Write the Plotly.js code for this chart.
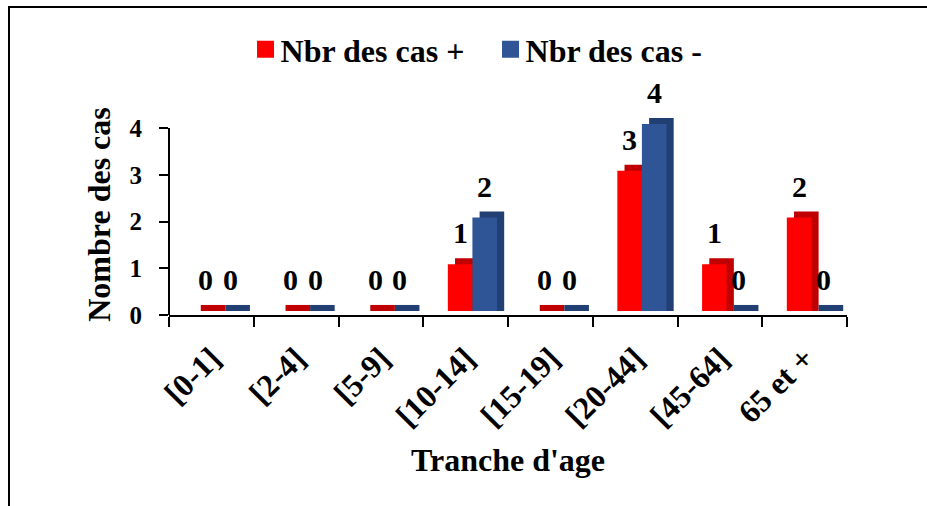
<!DOCTYPE html>
<html>
<head>
<meta charset="utf-8">
<script src="https://cdn.plot.ly/plotly-3.0.1.min.js"></script>
<style>
  html, body { margin: 0; padding: 0; background: #fff; }
  #wrap { position: relative; width: 927px; height: 506px; }
  #chart { position: absolute; left: 0; top: 0; width: 927px; height: 506px; }
  #frame { position: absolute; left: 8px; top: 6px; right: 0; bottom: 0;
           border-top: 2px solid #000; border-left: 2px solid #000; pointer-events: none; }
</style>
</head>
<body>
<div id="wrap"><div id="chart"></div><div id="frame"></div></div>
<script>
// ---- data ----
const categories = ['[0-1]', '[2-4]', '[5-9]', '[10-14]', '[15-19]', '[20-44]', '[45-64]', '65 et +'];
const casPositifs = [0, 0, 0, 1, 0, 3, 1, 2];
const casNegatifs = [0, 0, 0, 2, 0, 4, 0, 0];
const seriesNames = ['Nbr des cas +', 'Nbr des cas -'];
const yTicks = [0, 1, 2, 3, 4];

// ---- style ----
const FONT = 'Liberation Serif, Times New Roman, serif';
const W = 0.29;          // bar width (category units)
const OFF_POS = -0.21;   // offset of red bars
const OFF_NEG = 0.08;    // offset of blue bars
const DX = 0.085;        // 3D depth, horizontal (category units)
const DY = 0.13;         // 3D depth, vertical (value units)
const LIFT = 0.085;      // floor lift of the 3D bars
const Y_MAX = Math.max(...yTicks);
const HEADROOM = 0.3;    // room above the axis top for the 3D tops
const PX_PER_UNIT = 46.75;

const idx = categories.map((c, i) => i);

function depthTrace(vals, off, color) {
  return {
    type: 'bar', x: categories, y: vals.map(v => v + DY), base: LIFT,
    offset: off + DX, width: W, marker: { color: color, line: { width: 0 } },
    showlegend: false, hoverinfo: 'skip'
  };
}
function frontTrace(vals, off, color, name) {
  return {
    type: 'bar', x: categories, y: vals, base: LIFT, name: name,
    offset: off, width: W, marker: { color: color, line: { width: 0 } }
  };
}

const traces = [
  depthTrace(casPositifs, OFF_POS, '#C00000'),
  depthTrace(casNegatifs, OFF_NEG, '#223F73'),
  frontTrace(casPositifs, OFF_POS, '#FF0000', seriesNames[0]),
  frontTrace(casNegatifs, OFF_NEG, '#2F5597', seriesNames[1])
];

const annotations = [];
[[casPositifs, OFF_POS], [casNegatifs, OFF_NEG]].forEach(([vals, off]) => {
  vals.forEach((v, i) => {
    annotations.push({
      xref: 'x', yref: 'y', x: idx[i] + off + W / 2, y: v + LIFT,
      text: String(v), showarrow: false, yanchor: 'bottom', yshift: 13,
      font: { family: FONT, size: 30, weight: 'bold', color: '#000' }
    });
  });
});

const topMargin = Math.round(128 - HEADROOM * PX_PER_UNIT);
const plotH = 506 - 191 - topMargin;

const layout = {
  width: 927, height: 506,
  margin: { l: 169, r: 80, t: topMargin, b: 191 },
  paper_bgcolor: '#fff', plot_bgcolor: '#fff',
  barmode: 'overlay',
  showlegend: true,
  legend: {
    orientation: 'h', x: 0.1055, xanchor: 'left', y: 1 + (topMargin - 49.5) / plotH, yanchor: 'middle',
    entrywidth: 200, entrywidthmode: 'pixels',
    font: { family: FONT, size: 32, weight: 'bold', color: '#000' },
    traceorder: 'normal', bgcolor: 'rgba(0,0,0,0)'
  },
  xaxis: {
    type: 'category', categoryorder: 'array', categoryarray: categories,
    tickangle: -45, tickson: 'boundaries',
    ticks: 'outside', ticklen: 10, tickwidth: 2, tickcolor: '#000',
    ticklabelstandoff: 10,
    showline: true, linewidth: 2, linecolor: '#000', showgrid: false,
    tickfont: { family: FONT, size: 32, weight: 'bold', color: '#000' },
    title: { text: "Tranche d'age", standoff: 16,
             font: { family: FONT, size: 32, weight: 'bold', color: '#000' } },
    automargin: false
  },
  yaxis: {
    range: [0, Y_MAX + HEADROOM], tickvals: yTicks, ticktext: yTicks.map(String),
    ticks: 'outside', ticklen: 9, tickwidth: 2, tickcolor: '#000',
    ticklabelstandoff: 12,
    showline: false, showgrid: false, zeroline: false,
    tickfont: { family: FONT, size: 25, weight: 'bold', color: '#000' },
    title: { text: 'Nombre des cas', standoff: 9,
             font: { family: FONT, size: 32, weight: 'bold', color: '#000' } },
    automargin: false
  },
  shapes: [{
    type: 'line', xref: 'paper', yref: 'y', x0: 0, x1: 0, y0: 0, y1: Y_MAX,
    line: { color: '#000', width: 2 }, layer: 'above'
  }],
  annotations: annotations
};

Plotly.newPlot('chart', traces, layout, { displayModeBar: false, staticPlot: true }).then(() => {
  document.querySelectorAll('#chart .legendpoints path').forEach(p => {
    p.setAttribute('d', 'M13.5,8.5H-3.5V-8.5H13.5Z');
  });
});
</script>
</body>
</html>
